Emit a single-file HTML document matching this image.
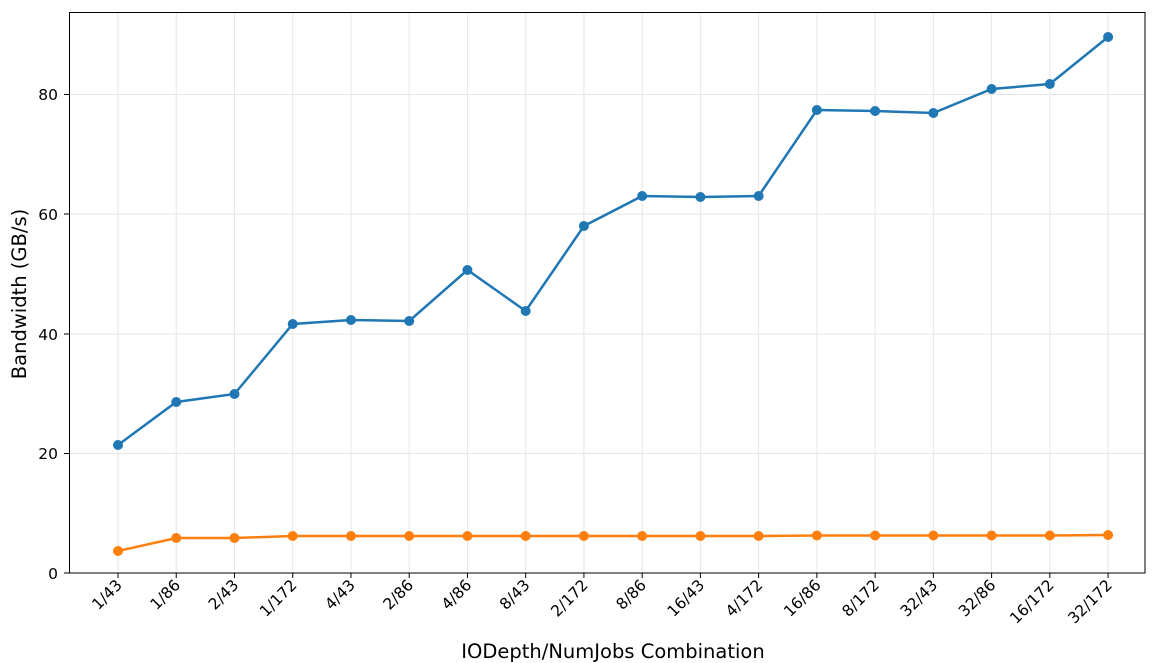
<!DOCTYPE html>
<html><head><meta charset="utf-8"><style>body{margin:0;background:#fff}svg{display:block}text{font-family:"DejaVu Sans","Liberation Sans",sans-serif;fill:#000}</style></head>
<body>
<svg width="1170" height="663" viewBox="0 0 1170 663" xmlns="http://www.w3.org/2000/svg">
<rect width="1170" height="663" fill="#fff"/>
<g stroke="#e6e6e6" stroke-width="1">
<line x1="69" x2="1145" y1="453.5" y2="453.5"/><line x1="69" x2="1145" y1="334" y2="334"/><line x1="69" x2="1145" y1="214" y2="214"/><line x1="69" x2="1145" y1="94.5" y2="94.5"/>
</g>
<g id="vg" stroke="#e6e6e6" stroke-width="1"></g>
<rect x="69.5" y="12.5" width="1075.5" height="560.5" fill="none" stroke="#000" stroke-width="1"/>
<g font-size="15.5" text-anchor="end">
<text x="58" y="579">0</text><text x="58" y="459">20</text><text x="58" y="340">40</text><text x="58" y="220">60</text><text x="58" y="100">80</text>
</g>
<g stroke="#000"><line x1="64" x2="69" y1="573" y2="573"/><line x1="64" x2="69" y1="453.5" y2="453.5"/><line x1="64" x2="69" y1="334" y2="334"/><line x1="64" x2="69" y1="214" y2="214"/><line x1="64" x2="69" y1="94.5" y2="94.5"/></g>
<text x="26" y="294" font-size="19.5" text-anchor="middle" transform="rotate(-90 26 294)">Bandwidth (GB/s)</text>
<text x="613" y="658" font-size="19.5" text-anchor="middle">IODepth/NumJobs Combination</text>
<g id="xt"></g>
<polyline id="b" fill="none" stroke="#1f77b4" stroke-width="2.5"/>
<polyline id="o" fill="none" stroke="#ff7f0e" stroke-width="2.5"/>
<g id="pts"></g>
</svg>
<script>
var labels=["1/43","1/86","2/43","1/172","4/43","2/86","4/86","8/43","2/172","8/86","16/43","4/172","16/86","8/172","32/43","32/86","16/172","32/172"];
var by=[445,402,394,324,320,321,270,311,226,196,197,196,110,111,113,89,84,37];
var oy=[551,538,538,536,536,536,536,536,536,536,536,536,535.5,535.5,535.5,535.5,535.5,535];
var ns="http://www.w3.org/2000/svg";
var vg=document.getElementById('vg'),xt=document.getElementById('xt'),pts=document.getElementById('pts');
var bp=[],op=[];
labels.forEach(function(l,i){var x=118+i*58.24;
var ln=document.createElementNS(ns,'line');ln.setAttribute('x1',x);ln.setAttribute('x2',x);ln.setAttribute('y1',13);ln.setAttribute('y2',573);vg.appendChild(ln);
var tk=document.createElementNS(ns,'line');tk.setAttribute('x1',x);tk.setAttribute('x2',x);tk.setAttribute('y1',573);tk.setAttribute('y2',578);tk.setAttribute('stroke','#000');xt.appendChild(tk);
var tx=x+5,ty=586;
var t=document.createElementNS(ns,'text');t.setAttribute('x',tx);t.setAttribute('y',ty);t.setAttribute('font-size','15.5');t.setAttribute('text-anchor','end');t.setAttribute('transform','rotate(-45 '+tx+' '+ty+')');t.textContent=l;xt.appendChild(t);
bp.push(x+','+by[i]);op.push(x+','+oy[i]);
[[by[i],'#1f77b4'],[oy[i],'#ff7f0e']].forEach(function(p){var c=document.createElementNS(ns,'circle');c.setAttribute('cx',x);c.setAttribute('cy',p[0]);c.setAttribute('r',5);c.setAttribute('fill',p[1]);pts.appendChild(c);});
});
document.getElementById('b').setAttribute('points',bp.join(' '));
document.getElementById('o').setAttribute('points',op.join(' '));
</script>
</body></html>
